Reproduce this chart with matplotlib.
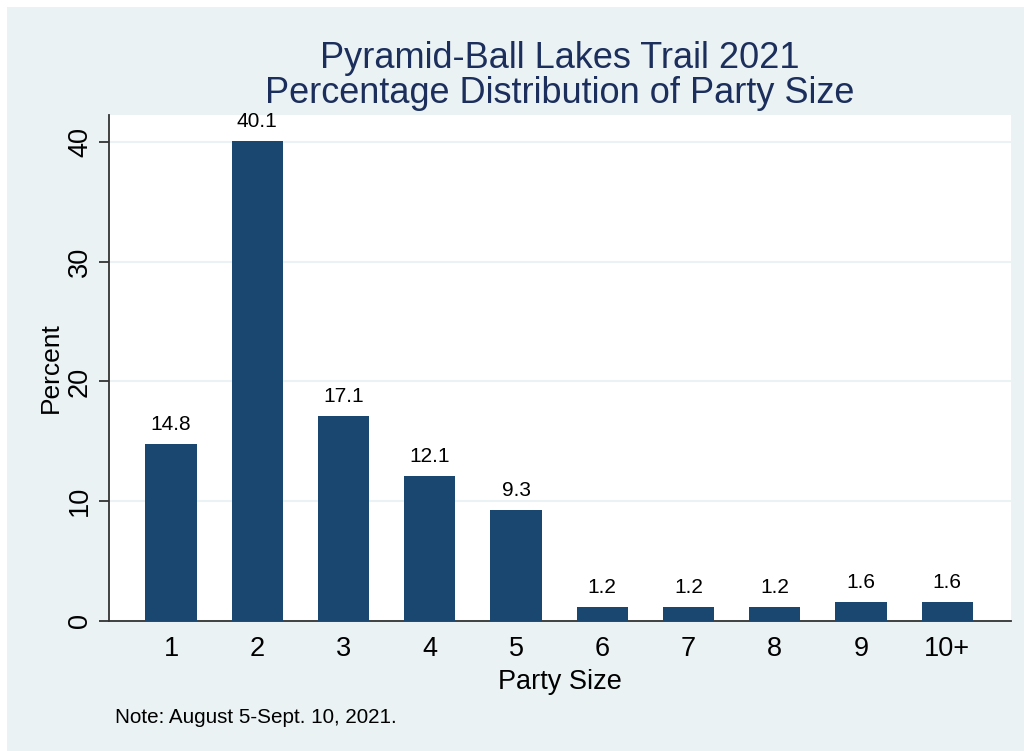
import matplotlib
matplotlib.use("Agg")
import matplotlib.pyplot as plt
from matplotlib.patches import Rectangle

plt.rcParams['font.family'] = ['Liberation Sans', 'DejaVu Sans']

party_sizes = ["1", "2", "3", "4", "5", "6", "7", "8", "9", "10+"]
percents = [14.8, 40.1, 17.1, 12.1, 9.3, 1.2, 1.2, 1.2, 1.6, 1.6]
y_ticks = [0, 10, 20, 30, 40]

title = "Pyramid-Ball Lakes Trail 2021\nPercentage Distribution of Party Size"
note = "Note: August 5-Sept. 10, 2021."

W, H = 1024, 751
fig = plt.figure(figsize=(W / 100, H / 100), dpi=100, facecolor="white")

# light graph-region panel behind everything
fig.patches.append(Rectangle((7 / W, 0), 1 - 7 / W, (H - 7) / H,
                             transform=fig.transFigure, facecolor="#EAF2F3",
                             edgecolor="none", zorder=-5))

ax = fig.add_axes([109 / W, (H - 621) / H, (1011 - 109) / W, (621 - 115) / H])
ax.set_zorder(2)
ax.set_facecolor("white")

bar_color = "#1A476F"
positions = list(range(1, len(party_sizes) + 1))
bars = ax.bar(positions, percents, width=0.595, color=bar_color, zorder=3)

for x, v in zip(positions, percents):
    ax.annotate(f"{v:.1f}", (x, v), xytext=(0, 7), textcoords="offset points",
                ha="center", va="bottom", fontsize=15, color="black")

ax.set_xlim(0.28, 10.74)
ax.set_ylim(0, 42.25)
ax.set_xticks(positions)
ax.set_xticklabels(party_sizes)
ax.set_yticks(y_ticks)
ax.set_yticklabels([str(t) for t in y_ticks], rotation=90, va="center")

ax.tick_params(axis="x", length=0, pad=11, labelsize=19.5)
ax.tick_params(axis="y", length=7, width=1.3, color="#333333", pad=4.5, labelsize=19.5)

ax.grid(axis="y", color="#EAF2F3", linewidth=1.5, zorder=1)
ax.set_axisbelow(True)

for side in ("top", "right"):
    ax.spines[side].set_visible(False)
for side in ("left", "bottom"):
    ax.spines[side].set_color("#333333")
    ax.spines[side].set_linewidth(1.3)

ax.set_xlabel("Party Size", fontsize=19.5, labelpad=5)
ax.set_ylabel("Percent", fontsize=19, labelpad=3)

fig.text(560 / W, (H - 111) / H, title, ha="center", va="bottom",
         fontsize=26, color="#1C2F5C", linespacing=1.0)

fig.text(115 / W, (H - 723) / H, note, ha="left", va="baseline", fontsize=14.9)

fig.savefig("out.png", dpi=100, facecolor="white")
